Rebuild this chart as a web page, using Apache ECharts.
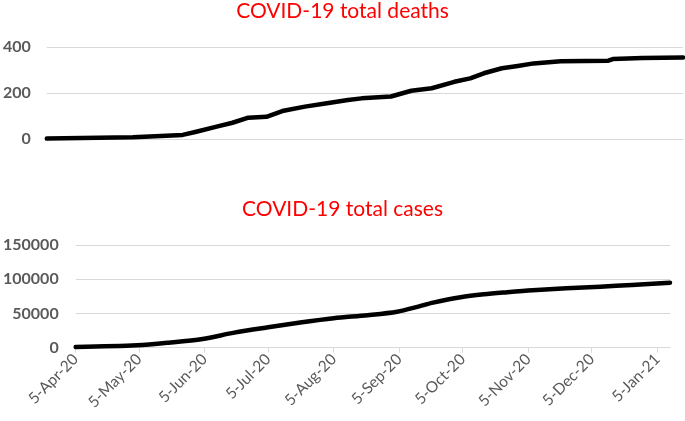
<!DOCTYPE html>
<html>
<head>
<meta charset="utf-8">
<script src="https://cdn.jsdelivr.net/npm/echarts@6/dist/echarts.min.js"></script>
<style>
html,body{margin:0;padding:0;background:#fff;}
#chart{width:685px;height:421px;}
</style>
</head>
<body>
<div id="chart"></div>
<script>
// Day offsets from 5-Apr-2020 and read values
const deathDays   = [0, 38, 43, 60, 66, 75, 82, 89, 97, 104, 114, 123, 133, 139, 152, 161, 170, 180, 187, 193, 201, 208, 215, 227, 248, 250, 263, 281];
const deathValues = [3, 9, 11, 19, 33, 55, 72, 94, 98, 123, 142, 156, 171, 178, 186, 211, 222, 250, 265, 287, 309, 319, 330, 339, 342, 349, 353, 356];
const caseDays    = [0, 29, 44, 60, 75, 91, 107, 122, 138, 152, 162, 169, 182, 193, 204, 216, 232, 248, 263, 281];
const caseValues  = [1000, 3500, 7300, 12700, 22000, 29800, 37100, 43000, 47500, 52600, 60000, 65800, 73700, 78000, 81000, 83900, 86800, 89200, 91700, 95000];
const deathTicks  = [0, 200, 400];
const caseTicks   = [0, 50000, 100000, 150000];
const titles      = ['COVID-19 total deaths', 'COVID-19 total cases'];

// Daily categories 5-Apr-20 .. 11-Jan-21
const months = ['Jan','Feb','Mar','Apr','May','Jun','Jul','Aug','Sep','Oct','Nov','Dec'];
const categories = [];
const start = Date.UTC(2020, 3, 5);
for (let i = 0; i <= 281; i++) {
  const d = new Date(start + i * 86400000);
  categories.push(d.getUTCDate() + '-' + months[d.getUTCMonth()] + '-' + String(d.getUTCFullYear()).slice(2));
}
const isFifth = (idx, val) => String(val).indexOf('5-') === 0;

const deathData = deathDays.map((d, i) => [categories[d], deathValues[i]]);
const caseData  = caseDays.map((d, i) => [categories[d], caseValues[i]]);

const gridColor = '#d9d9d9';
const labelColor = '#595959';
const fontFam = 'Lato, "Liberation Sans", sans-serif';
const plain = v => String(v);

const chart = echarts.init(document.getElementById('chart'), null, {renderer: 'canvas'});
chart.setOption({
  animation: false,
  backgroundColor: '#fff',
  title: [
    {text: titles[0], left: 'center', top: -4, textStyle: {color: '#ff0000', fontSize: 21, fontWeight: 'normal', fontFamily: fontFam}},
    {text: titles[1], left: 'center', top: 194, textStyle: {color: '#ff0000', fontSize: 21, fontWeight: 'normal', fontFamily: fontFam}}
  ],
  grid: [
    {left: 43, right: 2, top: 47.3, bottom: 281.7},
    {left: 70.7, right: 15, top: 245, bottom: 73.3}
  ],
  xAxis: [
    {type: 'category', gridIndex: 0, data: categories, boundaryGap: false,
     axisLine: {show: false}, axisTick: {show: false}, axisLabel: {show: false}, splitLine: {show: false}},
    {type: 'category', gridIndex: 1, data: categories, boundaryGap: false,
     axisLine: {show: true, lineStyle: {color: gridColor, width: 1}},
     axisTick: {show: true, interval: isFifth, length: 5, lineStyle: {color: gridColor, width: 1}},
     axisLabel: {show: true, interval: isFifth, rotate: 45, margin: 9, color: labelColor, fontSize: 15.5, fontFamily: fontFam},
     splitLine: {show: false}}
  ],
  yAxis: [
    {type: 'value', gridIndex: 0, min: deathTicks[0], max: deathTicks[deathTicks.length - 1], interval: 200,
     axisLine: {show: false}, axisTick: {show: false},
     axisLabel: {color: labelColor, fontSize: 16, fontWeight: 'bold', fontFamily: fontFam, margin: 16, formatter: plain},
     splitLine: {lineStyle: {color: gridColor, width: 1}}},
    {type: 'value', gridIndex: 1, min: caseTicks[0], max: caseTicks[caseTicks.length - 1], interval: 50000,
     axisLine: {show: false}, axisTick: {show: false},
     axisLabel: {color: labelColor, fontSize: 16, fontWeight: 'bold', fontFamily: fontFam, margin: 17, formatter: plain},
     splitLine: {lineStyle: {color: gridColor, width: 1}}}
  ],
  series: [
    {type: 'line', xAxisIndex: 0, yAxisIndex: 0, data: deathData, showSymbol: false, symbol: 'none',
     lineStyle: {color: '#000', width: 4.5, cap: 'round', join: 'round'}},
    {type: 'line', xAxisIndex: 1, yAxisIndex: 1, data: caseData, showSymbol: false, symbol: 'none', smooth: 0.3,
     lineStyle: {color: '#000', width: 4.5, cap: 'round', join: 'round'}}
  ]
});
</script>
</body>
</html>
